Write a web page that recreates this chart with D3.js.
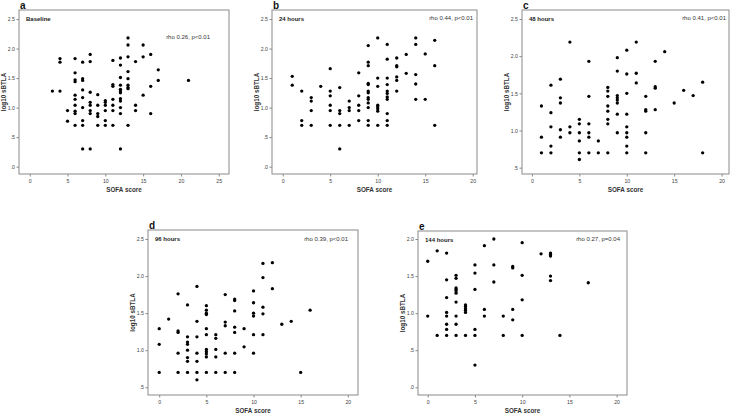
<!DOCTYPE html>
<html>
<head>
<meta charset="utf-8">
<script src="https://cdn.jsdelivr.net/npm/d3@7"></script>
<style>
  html, body { margin: 0; padding: 0; background: #fff; }
  svg { display: block; }
  text { font-family: "Liberation Sans", Arial, sans-serif; }
</style>
</head>
<body>
<svg id="chart" width="733" height="413"></svg>
<script>
// ---- Data ----
const panelLetters = ["a", "b", "c", "d", "e"];
const panelTitles = ["Baseline", "24 hours", "48 hours", "96 hours", "144 hours"];
const panelStats = ["rho 0.26, p<0.01", "rho 0.44, p<0.01", "rho 0.41, p<0.01", "rho 0.39, p<0.01", "rho 0.27, p=0.04"];
const xAxisTitle = "SOFA score";
const yAxisTitle = "log10 sBTLA";

const xTicksA = [0, 5, 10, 15, 20, 25];
const xTicksOther = [0, 5, 10, 15, 20];
const yTicksFull = [0, 0.5, 1.0, 1.5, 2.0, 2.5];
const yTicksHigh = [0.5, 1.0, 1.5, 2.0, 2.5];
const yTicksLow = [0, 0.5, 1.0, 1.5, 2.0];

// [SOFA score, log10 sBTLA]
const baselinePoints = [
  [3,1.28],[4,1.83],[4,1.77],[4,1.28],[5,0.95],[5,0.77],
  [6,1.83],[6,1.59],[6,1.47],[6,1.44],[6,1.21],[6,1.14],[6,1.04],[6,0.94],[6,0.90],[6,0.70],
  [7,1.77],[7,1.49],[7,1.46],[7,1.30],[7,1.17],[7,1.00],[7,0.78],[7,0.70],[7,0.30],
  [8,1.90],[8,1.78],[8,1.26],[8,1.09],[8,1.04],[8,0.95],[8,0.90],[8,0.30],
  [9,1.22],[9,1.04],[9,0.90],[9,0.85],[9,0.70],
  [10,1.12],[10,1.09],[10,1.04],[10,0.95],[10,0.78],[10,0.70],
  [11,1.80],[11,1.39],[11,1.36],[11,1.14],[11,1.04],[11,0.95],[11,0.70],
  [12,1.84],[12,1.72],[12,1.51],[12,1.38],[12,1.31],[12,1.28],[12,1.25],[12,1.15],[12,1.11],[12,1.00],[12,0.90],[12,0.30],
  [13,2.18],[13,2.06],[13,1.86],[13,1.61],[13,1.49],[13,1.38],[13,1.34],[13,1.32],[13,0.70],
  [14,1.78],[14,1.04],[14,0.95],
  [15,2.06],[15,1.86],[15,1.21],
  [16,1.90],[16,1.36],[16,0.90],
  [17,1.64],[17,1.46],
  [21,1.46]
];

const hours24Points = [
  [1,1.53],[1,1.38],
  [2,1.28],[2,0.78],[2,0.70],
  [3,1.17],[3,1.11],[3,0.95],[3,0.70],
  [4,1.36],
  [5,1.66],[5,1.28],[5,1.20],[5,1.04],[5,0.95],[5,0.70],
  [6,1.34],[6,0.95],[6,0.90],[6,0.70],[6,0.30],
  [7,1.11],[7,1.00],[7,0.95],[7,0.70],
  [8,1.59],[8,1.20],[8,1.04],[8,0.95],[8,0.78],
  [9,2.05],[9,1.77],[9,1.71],[9,1.41],[9,1.39],[9,1.28],[9,1.25],[9,1.17],[9,1.14],[9,1.08],[9,1.00],[9,0.78],[9,0.70],
  [10,2.18],[10,1.50],[10,1.36],[10,1.04],[10,1.01],[10,0.98],[10,0.94],[10,0.70],
  [11,2.07],[11,1.82],[11,1.50],[11,1.39],[11,1.28],[11,1.24],[11,1.18],[11,1.14],[11,0.90],[11,0.78],[11,0.70],
  [12,1.84],[12,1.71],[12,1.69],[12,1.52],[12,1.46],[12,1.28],
  [13,1.90],[13,1.58],
  [14,2.18],[14,2.07],[14,1.56],[14,1.40],[14,1.14],
  [15,1.91],[15,1.14],
  [16,2.14],[16,1.71],[16,0.70]
];

const hours48Points = [
  [1,1.33],[1,0.91],[1,0.70],
  [2,1.61],[2,1.24],[2,1.05],[2,0.79],[2,0.70],
  [3,1.69],[3,1.44],[3,1.37],[3,1.01],[3,0.91],
  [4,2.19],[4,1.05],[4,0.97],
  [5,1.15],[5,1.09],[5,0.97],[5,0.86],[5,0.70],[5,0.61],
  [6,1.93],[6,1.46],[6,1.09],[6,0.97],[6,0.91],[6,0.70],
  [7,0.86],[7,0.70],
  [8,1.58],[8,1.53],[8,1.46],[8,1.33],[8,1.26],[8,1.15],[8,1.09],[8,0.70],
  [9,1.98],[9,1.80],[9,1.47],[9,1.44],[9,1.41],[9,1.37],[9,1.22],[9,0.97],
  [10,2.08],[10,1.76],[10,1.50],[10,1.22],[10,1.05],[10,0.97],[10,0.91],[10,0.79],[10,0.70],
  [11,2.19],[11,1.77],[11,1.64],
  [12,1.46],[12,1.28],[12,1.26],[12,0.97],[12,0.70],
  [13,1.93],[13,1.59],[13,1.57],[13,1.28],
  [14,2.06],
  [15,1.37],
  [16,1.54],
  [17,1.47],
  [18,1.65],[18,0.70]
];

const hours96Points = [
  [0,1.29],[0,1.08],[0,0.70],
  [1,1.42],
  [2,1.76],[2,1.26],[2,1.24],[2,0.96],[2,0.70],
  [3,1.61],[3,1.18],[3,1.11],[3,1.08],[3,1.00],[3,0.90],[3,0.85],[3,0.70],
  [4,1.86],[4,1.39],[4,1.18],[4,0.96],[4,0.85],[4,0.70],[4,0.60],
  [5,1.60],[5,1.54],[5,1.50],[5,1.48],[5,1.29],[5,1.21],[5,1.01],[5,0.98],[5,0.95],[5,0.91],[5,0.70],
  [6,1.21],[6,1.16],[6,1.01],[6,0.91],[6,0.70],
  [7,1.75],[7,1.38],[7,1.33],[7,0.96],[7,0.70],
  [8,1.69],[8,1.67],[8,1.53],[8,1.31],[8,1.24],[8,0.96],[8,0.70],
  [9,1.29],[9,1.045],
  [10,1.80],[10,1.64],[10,1.50],[10,1.46],[10,1.21],[10,0.96],
  [11,2.17],[11,1.98],[11,1.58],[11,1.49],[11,1.21],
  [12,2.18],[12,1.83],
  [13,1.35],
  [14,1.39],
  [15,0.70],
  [16,1.54]
];

const hours144Points = [
  [0,1.70],[0,0.96],
  [1,1.84],[1,0.70],
  [2,1.81],[2,1.45],[2,1.21],[2,1.01],[2,0.96],[2,0.85],[2,0.78],[2,0.70],
  [3,1.51],[3,1.47],[3,1.34],[3,1.32],[3,1.30],[3,1.27],[3,1.15],[3,0.96],[3,0.85],[3,0.70],
  [4,1.11],[4,1.09],[4,1.06],[4,1.04],[4,1.01],[4,0.70],
  [5,1.65],[5,1.54],[5,1.32],[5,0.78],[5,0.70],[5,0.30],
  [6,1.91],[6,1.05],[6,0.96],
  [7,2.00],[7,1.65],[7,1.42],
  [8,0.96],[8,0.70],
  [9,1.63],[9,1.61],[9,1.05],[9,0.91],
  [10,1.95],[10,1.51],[10,1.18],[10,0.70],
  [12,1.80],
  [13,1.81],[13,1.79],[13,1.77],[13,1.50],[13,1.44],
  [14,0.70],
  [17,1.41]
];

const xDomains = [[-1.42, 26.36], [-1.13, 20.45], [-1.05, 20.78], [-1.19, 21.08], [-1.03, 21.1]];
const yDomains = [[-0.124, 2.653], [-0.124, 2.653], [0.415, 2.621], [0.396, 2.621], [-0.104, 2.108]];

// ---- Layout ----
const panels = [
  { pts: baselinePoints, xt: xTicksA, yt: yTicksFull, box: [19, 229, 10, 174], stat: [210, 39] },
  { pts: hours24Points, xt: xTicksOther, yt: yTicksFull, box: [272, 477, 10, 174], stat: [473, 20] },
  { pts: hours48Points, xt: xTicksOther, yt: yTicksHigh, box: [522, 729, 10, 174], stat: [726, 20] },
  { pts: hours96Points, xt: xTicksOther, yt: yTicksHigh, box: [148, 358, 230, 395], stat: [348, 241] },
  { pts: hours144Points, xt: xTicksOther, yt: yTicksLow, box: [418, 627, 231, 395], stat: [620, 241] }
];

const svg = d3.select("#chart");
const fmtY = v => v === 0 ? ".0" : (v < 1 ? ".5" : d3.format(".1f")(v));

panels.forEach((p, i) => {
  const [x0, x1, y0, y1] = p.box;
  const x = d3.scaleLinear().domain(xDomains[i]).range([x0, x1]);
  const y = d3.scaleLinear().domain(yDomains[i]).range([y1, y0]);
  const g = svg.append("g");

  // axes
  const xa = g.append("g").attr("transform", `translate(0,${y1})`)
    .call(d3.axisBottom(x).tickValues(p.xt).tickSize(2.5).tickPadding(2.5).tickFormat(d3.format("d")));
  const ya = g.append("g").attr("transform", `translate(${x0},0)`)
    .call(d3.axisLeft(y).tickValues(p.yt).tickSize(2.5).tickPadding(1.5).tickFormat(fmtY));
  [xa, ya].forEach(a => {
    a.select(".domain").remove();
    a.selectAll(".tick line").attr("stroke", "#555").attr("stroke-width", 0.7);
    a.selectAll(".tick text").attr("fill", "#444").style("font-size", "5.2px")
      .style("font-family", "'Liberation Sans', Arial, sans-serif");
  });

  // frame
  g.append("rect").attr("x", x0).attr("y", y0).attr("width", x1 - x0).attr("height", y1 - y0)
    .attr("fill", "none").attr("stroke", "#8a8a8a").attr("stroke-width", 1);

  // points
  g.append("g").selectAll("circle").data(p.pts).join("circle")
    .attr("cx", d => x(d[0])).attr("cy", d => y(d[1])).attr("r", 1.65).attr("fill", "#000");

  // panel letter
  g.append("text").attr("x", x0 + 1).attr("y", y0 - 1.5)
    .style("font-size", "10px").style("font-weight", "bold").attr("fill", "#111").text(panelLetters[i]);

  // inner title
  g.append("text").attr("x", x0 + 7).attr("y", y0 + 11)
    .style("font-size", "6px").style("font-weight", "bold").attr("fill", "#222").text(panelTitles[i]);

  // stats
  g.append("text").attr("x", p.stat[0]).attr("y", p.stat[1]).attr("text-anchor", "end")
    .style("font-size", "6px").attr("fill", "#333").text(panelStats[i]);

  // axis titles
  g.append("text").attr("x", (x0 + x1) / 2).attr("y", y1 + 17.5).attr("text-anchor", "middle")
    .style("font-size", "6.3px").style("font-weight", "bold").attr("fill", "#333").text(xAxisTitle);
  g.append("text").attr("transform", `translate(${x0 - 13.5},${(y0 + y1) / 2}) rotate(-90)`)
    .attr("text-anchor", "middle")
    .style("font-size", "6.3px").style("font-weight", "bold").attr("fill", "#333").text(yAxisTitle);
});
</script>
</body>
</html>
